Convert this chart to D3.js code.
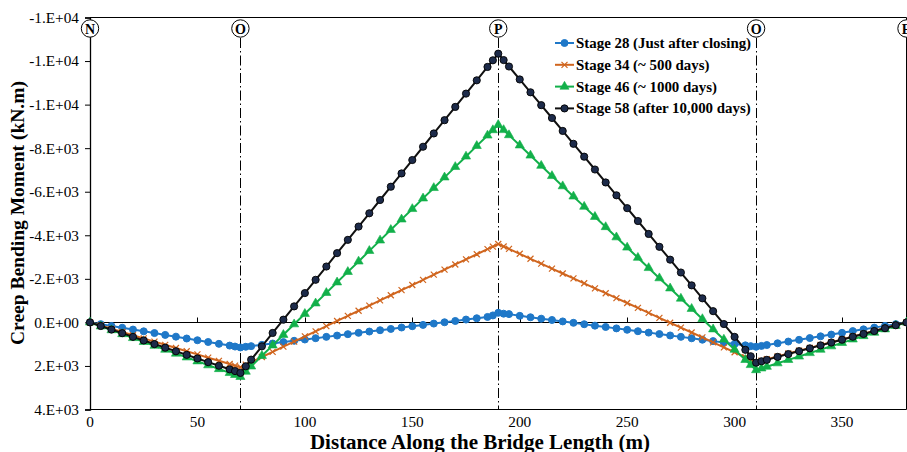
<!DOCTYPE html>
<html>
<head>
<meta charset="utf-8">
<script src="https://cdn.jsdelivr.net/npm/d3@7"></script>
<style>
  html, body { margin: 0; padding: 0; background: #fff; }
  svg { display: block; font-family: "Liberation Serif", "Times New Roman", serif; }
</style>
</head>
<body>
<svg id="chart" width="907" height="452"></svg>
<script>
// Node positions along the bridge (m)
const distance = [
  0, 5, 10, 15, 20, 25, 30, 35, 40, 45, 50, 55, 60, 65, 67.5, 70,
  72.5, 75, 80, 85, 90, 95, 100, 105, 110, 115, 120, 125, 130, 135, 140, 145, 150, 155, 160, 165, 170, 175, 180, 185, 187.5, 190,
  192.5, 195, 200, 205, 210, 215, 220, 225, 230, 235, 240, 245, 250, 255, 260, 265, 270, 275, 280, 285, 290, 295, 300, 305, 307.5, 310,
  312.5, 315, 320, 325, 330, 335, 340, 345, 350, 355, 360, 365, 370, 375, 380
];

// Creep bending moment (kN.m) per stage
const stage28 = [
  0, 80, 165, 245, 330, 410, 490, 575, 655, 740, 820, 900, 985, 1065, 1110, 1150,
  1120, 1090, 1030, 970, 905, 845, 785, 725, 665, 605, 540, 480, 420, 360, 300, 235, 175, 115, 55, -5, -65, -130, -190, -250, -320, -440,
  -400, -380, -300, -235, -170, -110, -45, 20, 85, 150, 210, 275, 340, 405, 470, 535, 600, 665, 730, 795, 860, 925, 990, 1055, 1090, 1120,
  1080, 1040, 960, 880, 800, 720, 640, 560, 480, 400, 320, 240, 160, 80, 0
];
const stage34 = [
  0, 145, 295, 440, 590, 735, 885, 1030, 1175, 1325, 1470, 1620, 1765, 1910, 1985, 2060,
  1940, 1825, 1590, 1355, 1115, 880, 645, 410, 175, -65, -300, -535, -770, -1010, -1245, -1480, -1715, -1950, -2190, -2425, -2660, -2895, -3130, -3365, -3480, -3600,
  -3485, -3375, -3150, -2920, -2695, -2470, -2245, -2020, -1795, -1565, -1340, -1115, -890, -665, -440, -210, 15, 240, 465, 690, 915, 1145, 1370, 1595, 1705, 1820,
  1755, 1690, 1560, 1430, 1300, 1170, 1040, 910, 780, 650, 520, 390, 260, 130, 0
];
const stage46 = [
  0, 180, 355, 535, 715, 895, 1070, 1250, 1430, 1605, 1785, 1965, 2140, 2320, 2410, 2500,
  2260, 2020, 1535, 1055, 570, 85, -395, -875, -1355, -1840, -2320, -2800, -3285, -3765, -4250, -4730, -5210, -5695, -6175, -6660, -7140, -7620, -8105, -8585, -8830, -9070,
  -8835, -8600, -8130, -7665, -7195, -6725, -6255, -5785, -5315, -4850, -4380, -3910, -3440, -2970, -2500, -2030, -1565, -1095, -625, -155, 315, 785, 1250, 1720, 1955, 2190,
  2110, 2035, 1875, 1720, 1565, 1405, 1250, 1095, 940, 780, 625, 470, 315, 155, 0
];
const stage58 = [
  0, 165, 330, 495, 665, 830, 995, 1160, 1325, 1490, 1655, 1825, 1990, 2155, 2235, 2320,
  2015, 1710, 1100, 485, -125, -735, -1345, -1955, -2565, -3180, -3790, -4400, -5010, -5620, -6230, -6840, -7455, -8065, -8675, -9285, -9895, -10505, -11115, -11730, -12035, -12340,
  -12045, -11750, -11155, -10565, -9975, -9385, -8790, -8200, -7610, -7020, -6425, -5835, -5245, -4655, -4060, -3470, -2880, -2290, -1700, -1105, -515, 75, 665, 1260, 1555, 1850,
  1785, 1720, 1585, 1455, 1320, 1190, 1055, 925, 795, 660, 530, 395, 265, 130, 0
];

const seriesNames = [
  "Stage 28 (Just after closing)",
  "Stage 34 (~ 500 days)",
  "Stage 46 (~ 1000 days)",
  "Stage 58 (after 10,000 days)"
];

// Support marks above the plot
const supportNames = ["N", "O", "P", "O", "E"];
const supportPositions = [0, 70, 190, 310, 380];

// Axis ticks
const xTicks = [0, 50, 100, 150, 200, 250, 300, 350];
const yTicks = [-14000, -12000, -10000, -8000, -6000, -4000, -2000, 0, 2000, 4000];
const yTickLabels = ["-1.E+04", "-1.E+04", "-1.E+04", "-8.E+03", "-6.E+03", "-4.E+03", "-2.E+03", "0.E+00", "2.E+03", "4.E+03"];

const svg = d3.select("#chart");
const plotLeft = 90, plotRight = 906.5, plotTop = 17.5, plotBottom = 409.5;

const x = d3.scaleLinear().domain([0, 380]).range([plotLeft, plotRight]);
const y = d3.scaleLinear().domain([-14000, 4000]).range([plotTop, plotBottom]);

// Plot frame (top, right, bottom)
svg.append("path")
  .attr("d", `M${plotLeft},${plotTop}H${plotRight}V${plotBottom}H${plotLeft}`)
  .attr("fill", "none").attr("stroke", "#000").attr("stroke-width", 1);

// Y axis
const yAxis = d3.axisLeft(y).tickValues(yTicks)
  .tickFormat((d, i) => yTickLabels[i]).tickSize(5).tickPadding(6);
const gy = svg.append("g").attr("transform", `translate(${plotLeft},0)`).call(yAxis);
gy.select(".domain").attr("stroke", "#000").attr("stroke-width", 1.3);
gy.selectAll("text").attr("font-size", 15.3).attr("fill", "#000")
  .attr("font-family", "Liberation Serif, serif");

// X axis line at zero, ticks pointing up, labels below the plot
const zeroY = Math.round(y(0)) + 0.5;
svg.append("line").attr("x1", plotLeft).attr("x2", plotRight).attr("y1", zeroY).attr("y2", zeroY)
  .attr("stroke", "#000").attr("stroke-width", 1);
svg.append("g").selectAll("line").data(xTicks.filter(d => d > 0)).join("line")
  .attr("x1", d => Math.round(x(d)) + 0.5).attr("x2", d => Math.round(x(d)) + 0.5)
  .attr("y1", zeroY).attr("y2", zeroY - 5)
  .attr("stroke", "#000").attr("stroke-width", 1);
svg.append("g").selectAll("text").data(xTicks).join("text")
  .attr("x", d => x(d)).attr("y", 426.5)
  .attr("text-anchor", "middle").attr("font-size", 15.3).attr("fill", "#000")
  .text(d => d);

// Support lines (dash-dot) and labels
const supports = supportNames.map((n, i) => ({ name: n, pos: supportPositions[i] }));
svg.append("g").selectAll("line")
  .data(supports.filter(s => s.pos > 0 && s.pos < 380)).join("line")
  .attr("x1", s => Math.round(x(s.pos)) + 0.5).attr("x2", s => Math.round(x(s.pos)) + 0.5)
  .attr("y1", 38).attr("y2", plotBottom)
  .attr("stroke", "#000").attr("stroke-width", 1)
  .attr("stroke-dasharray", "10,3,1.5,3");
const sg = svg.append("g").selectAll("g").data(supports).join("g")
  .attr("transform", s => `translate(${x(s.pos)},28.5)`);
sg.append("circle").attr("r", 8.7).attr("fill", "#fff").attr("stroke", "#000").attr("stroke-width", 1);
sg.append("text").attr("y", 5).attr("text-anchor", "middle")
  .attr("font-size", 14).attr("font-weight", "bold").text(s => s.name);

// Series
const colors = ["#1f78c8", "#d0651e", "#12b04a", "#111111"];
const markerFill = ["#1f78c8", "#d0651e", "#12b04a", "#1d2b4a"];
const allSeries = [stage28, stage34, stage46, stage58];

function drawMarker(g, k) {
  if (k === 0) {
    g.append("circle").attr("r", 3.5).attr("fill", markerFill[0]).attr("stroke", markerFill[0]);
  } else if (k === 1) {
    g.append("path").attr("d", "M-3,-3L3,3M-3,3L3,-3")
      .attr("stroke", colors[1]).attr("stroke-width", 1.2).attr("fill", "none");
  } else if (k === 2) {
    g.append("path").attr("d", d3.symbol(d3.symbolTriangle, 36)())
      .attr("fill", markerFill[2]).attr("stroke", markerFill[2]).attr("stroke-width", 0.6);
  } else {
    g.append("circle").attr("r", 3.6).attr("fill", markerFill[3]).attr("stroke", "#000").attr("stroke-width", 0.9);
  }
}

const line = d3.line().x(d => x(d[0])).y(d => y(d[1]));
allSeries.forEach((vals, k) => {
  const pts = distance.map((d, i) => [d, vals[i]]);
  const g = svg.append("g");
  g.append("path").datum(pts).attr("d", line)
    .attr("fill", "none").attr("stroke", colors[k]).attr("stroke-width", 2)
    .attr("stroke-linejoin", "round");
  g.selectAll("g").data(pts).join("g")
    .attr("transform", d => `translate(${x(d[0])},${y(d[1])})`)
    .each(function () { drawMarker(d3.select(this), k); });
});

// Legend
const lg = svg.append("g").attr("transform", "translate(555,43)");
seriesNames.forEach((name, k) => {
  const row = lg.append("g").attr("transform", `translate(0,${k * 21.8})`);
  row.append("line").attr("x1", 0).attr("x2", 19).attr("y1", 0).attr("y2", 0)
    .attr("stroke", colors[k]).attr("stroke-width", 2);
  const m = row.append("g").attr("transform", "translate(9.5,0)");
  drawMarker(m, k);
  row.append("text").attr("x", 21).attr("y", 5)
    .attr("font-size", 14.9).attr("font-weight", "bold").attr("fill", "#000").text(name);
});

// Axis titles
svg.append("text").attr("x", 480).attr("y", 448.5).attr("text-anchor", "middle")
  .attr("font-size", 21).attr("font-weight", "bold").text("Distance Along the Bridge Length  (m)");
svg.append("text").attr("transform", "translate(24,213) rotate(-90)").attr("text-anchor", "middle")
  .attr("font-size", 19.5).attr("font-weight", "bold").text("Creep Bending Moment  (kN.m)");
</script>
</body>
</html>
